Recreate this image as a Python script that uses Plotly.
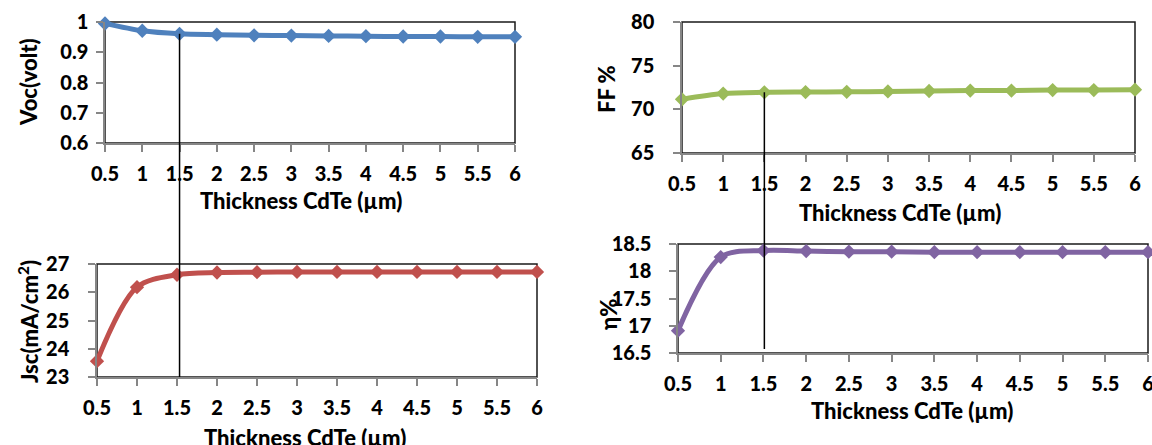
import plotly.graph_objects as go

thickness = [0.5, 1, 1.5, 2, 2.5, 3, 3.5, 4, 4.5, 5, 5.5, 6]
x_tick_labels = ["0.5", "1", "1.5", "2", "2.5", "3", "3.5", "4", "4.5", "5", "5.5", "6"]
voc = [0.995, 0.971, 0.961, 0.958, 0.956, 0.955, 0.954, 0.953, 0.952, 0.952, 0.951, 0.951]
jsc = [23.56, 26.18, 26.62, 26.70, 26.71, 26.72, 26.72, 26.72, 26.72, 26.72, 26.72, 26.72]
ff = [71.15, 71.8, 71.95, 71.98, 72.0, 72.05, 72.1, 72.15, 72.15, 72.2, 72.2, 72.25]
eta = [16.91, 18.26, 18.38, 18.37, 18.36, 18.36, 18.35, 18.35, 18.35, 18.35, 18.35, 18.35]

voc_ticks = [0.6, 0.7, 0.8, 0.9, 1]
voc_tick_labels = ["0.6", "0.7", "0.8", "0.9", "1"]
jsc_ticks = [23, 24, 25, 26, 27]
ff_ticks = [65, 70, 75, 80]
eta_ticks = [16.5, 17, 17.5, 18, 18.5]
eta_tick_labels = ["16.5", "17", "17.5", "18", "18.5"]

W, H = 1152, 445
FONT = "Lato"
FS = 20
WEIGHT = 900
AXIS_GRAY = "#868686"


def px_x(p):
    return p / W


def px_y(p):
    return 1 - p / H


# panel boxes in pixels: (left, right, top, bottom)
panels = {
    "tl": (105, 515, 22, 143),
    "bl": (97, 537, 264, 377),
    "tr": (682, 1135, 22, 153),
    "br": (678, 1148, 244, 353),
}

fig = go.Figure()

series = [
    ("tl", "x", "y", voc, "#4F81BD", [0.6, 1.0], voc_ticks, voc_tick_labels, 4),
    ("bl", "x2", "y2", jsc, "#C0504D", [23, 27], jsc_ticks, [str(v) for v in jsc_ticks], 15),
    ("tr", "x3", "y3", ff, "#9BBB59", [65, 80], ff_ticks, [str(v) for v in ff_ticks], 15),
    ("br", "x4", "y4", eta, "#8064A2", [16.5, 18.5], eta_ticks, eta_tick_labels, 14),
]

tickfont = dict(family=FONT, size=FS, color="#000000", weight=WEIGHT)

shapes = []
for key, xa, ya, vals, col, yr, yt, ytl, ystand in series:
    l, r, t, b = panels[key]
    fig.add_trace(go.Scatter(
        x=thickness, y=vals, xaxis=xa, yaxis=ya, mode="lines+markers",
        line=dict(color=col, width=5, shape="spline", smoothing=0.9),
        marker=dict(symbol="diamond", size=11, color=col),
        cliponaxis=False, showlegend=False, hoverinfo="x+y",
    ))
    xname = "xaxis" if xa == "x" else "xaxis" + xa[1:]
    yname = "yaxis" if ya == "y" else "yaxis" + ya[1:]
    fig.layout[xname] = dict(
        domain=[px_x(l), px_x(r)], range=[0.5, 6], anchor=ya, automargin=False,
        tickvals=thickness, ticktext=x_tick_labels, ticklabeloverflow="allow",
        showline=True, linecolor=AXIS_GRAY, linewidth=1.5,
        ticks="outside", ticklen=7, tickcolor=AXIS_GRAY, tickwidth=1.5,
        showgrid=False, zeroline=False, ticklabelstandoff=5,
        tickfont=tickfont,
    )
    fig.layout[yname] = dict(
        domain=[px_y(b), px_y(t)], range=yr, anchor=xa, automargin=False,
        tickvals=yt, ticktext=ytl, ticklabeloverflow="allow",
        showline=True, linecolor=AXIS_GRAY, linewidth=1.5,
        ticks="outside", ticklen=7, tickcolor=AXIS_GRAY, tickwidth=1.5,
        showgrid=False, zeroline=False, ticklabelstandoff=ystand,
        tickfont=tickfont,
    )
    # black plot-area border (top/right visible)
    shapes.append(dict(type="rect", xref=xa + " domain", yref=ya + " domain",
                       x0=0, x1=1, y0=0, y1=1, line=dict(color="#1a1a1a", width=1.5),
                       layer="below"))

# connecting vertical lines at 1.5 um
tl = panels["tl"]; bl = panels["bl"]; tr = panels["tr"]; br = panels["br"]
voc_at = voc[thickness.index(1.5)]
y_top1 = px_y(tl[3]) + (voc_at - 0.6) / 0.4 * (px_y(tl[2]) - px_y(tl[3]))
shapes.append(dict(type="line", xref="x", yref="paper", x0=1.5, x1=1.5,
                   y0=px_y(bl[3]), y1=y_top1, line=dict(color="#000000", width=1.5)))
ff_at = ff[thickness.index(1.5)]
y_top2 = px_y(tr[3]) + (ff_at - 65) / 15 * (px_y(tr[2]) - px_y(tr[3]))
shapes.append(dict(type="line", xref="x3", yref="paper", x0=1.5, x1=1.5,
                   y0=px_y(br[3] - 4), y1=y_top2, line=dict(color="#000000", width=1.5)))

tfont = dict(family=FONT, size=22, color="#000000", weight=WEIGHT)
annotations = [
    dict(text="Thickness CdTe (µm)", x=px_x(301), y=px_y(200)),
    dict(text="Thickness CdTe (µm)", x=px_x(305), y=px_y(437)),
    dict(text="Thickness CdTe (µm)", x=px_x(900), y=px_y(212)),
    dict(text="Thickness CdTe (µm)", x=px_x(912), y=px_y(410)),
    dict(text="Voc(volt)", x=px_x(29), y=px_y(82), textangle=-90),
    dict(text="Jsc(mA/cm<sup>2</sup>)", x=px_x(28), y=px_y(322), textangle=-90),
    dict(text="FF %", x=px_x(607), y=px_y(89), textangle=-90),
    dict(text="η%", x=px_x(608), y=px_y(315), textangle=-90),
]
for a in annotations:
    a.update(xref="paper", yref="paper", showarrow=False, font=tfont,
             xanchor="center", yanchor="middle")

fig.update_layout(
    width=W, height=H, margin=dict(l=0, r=0, t=0, b=0),
    paper_bgcolor="#ffffff", plot_bgcolor="#ffffff",
    shapes=shapes, annotations=annotations, showlegend=False,
)

fig.write_html("out.html")
